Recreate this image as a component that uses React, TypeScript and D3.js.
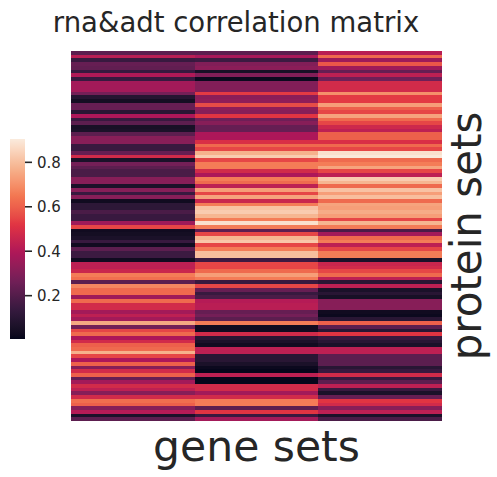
import React from "react";
import * as d3 from "d3";

const title = "rna&adt correlation matrix";
const xLabel = "gene sets";
const yLabel = "protein sets";
const columns = ["g0", "g1", "g2"];
const cbarTicks = [0.2, 0.4, 0.6, 0.8];
const vmin = 0.005;
const vmax = 0.905;

const col0 = [
  0.22, 0.42, 0.14, 0.24, 0.23, 0.14, 0.40, 0.14, 0.37, 0.37,
  0.37, 0.27, 0.09, 0.04, 0.24, 0.24, 0.10, 0.39, 0.14, 0.22,
  0.05, 0.06, 0.22, 0.31, 0.31, 0.14, 0.14, 0.24, 0.48, 0.06,
  0.27, 0.22, 0.18, 0.18, 0.31, 0.31, 0.06, 0.31, 0.14, 0.31,
  0.03, 0.11, 0.11, 0.18, 0.14, 0.14, 0.36, 0.55, 0.03, 0.04,
  0.06, 0.14, 0.03, 0.22, 0.15, 0.15, 0.03, 0.43, 0.43, 0.46,
  0.66, 0.63, 0.22, 0.68, 0.62, 0.62, 0.36, 0.62, 0.48, 0.48,
  0.37, 0.43, 0.37, 0.75, 0.27, 0.55, 0.62, 0.39, 0.48, 0.60,
  0.62, 0.77, 0.55, 0.39, 0.60, 0.31, 0.48, 0.60, 0.24, 0.37,
  0.48, 0.43, 0.31, 0.48, 0.63, 0.60, 0.31, 0.41, 0.06, 0.22,
];
const col1 = [
  0.22, 0.38, 0.15, 0.30, 0.32, 0.05, 0.30, 0.02, 0.30, 0.30,
  0.30, 0.53, 0.32, 0.33, 0.56, 0.33, 0.31, 0.52, 0.26, 0.31,
  0.24, 0.24, 0.39, 0.39, 0.50, 0.62, 0.55, 0.77, 0.83, 0.55,
  0.66, 0.66, 0.48, 0.39, 0.66, 0.62, 0.43, 0.73, 0.55, 0.74,
  0.46, 0.66, 0.81, 0.83, 0.78, 0.66, 0.88, 0.66, 0.22, 0.55,
  0.78, 0.82, 0.55, 0.66, 0.80, 0.80, 0.15, 0.55, 0.55, 0.62,
  0.73, 0.66, 0.14, 0.55, 0.24, 0.14, 0.18, 0.41, 0.42, 0.42,
  0.24, 0.27, 0.22, 0.66, 0.03, 0.03, 0.48, 0.10, 0.06, 0.03,
  0.43, 0.43, 0.10, 0.10, 0.06, 0.02, 0.01, 0.43, 0.01, 0.01,
  0.48, 0.48, 0.37, 0.48, 0.66, 0.66, 0.22, 0.52, 0.14, 0.37,
];
const col2 = [
  0.42, 0.62, 0.36, 0.58, 0.36, 0.24, 0.43, 0.26, 0.48, 0.48,
  0.48, 0.70, 0.53, 0.53, 0.73, 0.60, 0.55, 0.74, 0.62, 0.55,
  0.47, 0.43, 0.60, 0.60, 0.50, 0.62, 0.55, 0.88, 0.90, 0.62,
  0.66, 0.74, 0.55, 0.43, 0.83, 0.78, 0.62, 0.81, 0.73, 0.80,
  0.62, 0.74, 0.73, 0.76, 0.73, 0.55, 0.78, 0.66, 0.18, 0.37,
  0.62, 0.66, 0.43, 0.55, 0.66, 0.66, 0.06, 0.46, 0.48, 0.55,
  0.62, 0.43, 0.10, 0.43, 0.06, 0.10, 0.05, 0.31, 0.31, 0.31,
  0.03, 0.02, 0.10, 0.60, 0.22, 0.10, 0.52, 0.14, 0.10, 0.06,
  0.43, 0.43, 0.22, 0.22, 0.22, 0.10, 0.14, 0.48, 0.14, 0.22,
  0.43, 0.14, 0.06, 0.24, 0.52, 0.48, 0.31, 0.43, 0.06, 0.18,
];

const rocketStops = [
  "#03051a", "#35193e", "#701f57", "#ad1759",
  "#e13342", "#f37651", "#f6b48f", "#faebdd",
];

const W = 497;
const H = 477;
const TEXT = "#262626";
const FONT = "DejaVu Sans, sans-serif";

export default function App() {
  const series = [col0, col1, col2];
  const rows = d3.range(col0.length);
  const x = d3.scaleBand<string>().domain(columns).range([71, 442]);
  const y = d3.scaleBand<number>().domain(rows).range([51, 421]);
  const rocket = d3.piecewise(d3.interpolateLab, rocketStops);
  const color = d3.scaleSequential(rocket).domain([vmin, vmax]);
  const cb = d3.scaleLinear().domain([vmin, vmax]).range([339, 139]);
  const gradStops = d3.range(0, 1.0001, 0.02);

  const cells: React.ReactElement[] = [];
  series.forEach((vals, ci) => {
    vals.forEach((v, ri) => {
      cells.push(
        <rect
          key={`${ci}-${ri}`}
          x={x(columns[ci])}
          y={y(ri)}
          width={x.bandwidth()}
          height={y.bandwidth() + 0.3}
          fill={color(v)}
        />
      );
    });
  });

  return (
    <svg
      width={W}
      height={H}
      style={{ position: "absolute", left: 0, top: 0, background: "#fff" }}
      fontFamily={FONT}
    >
      <defs>
        <linearGradient id="cbar" x1="0" y1="1" x2="0" y2="0">
          {gradStops.map((t) => (
            <stop key={t} offset={t} stopColor={rocket(t)} />
          ))}
        </linearGradient>
      </defs>
      <g shapeRendering="crispEdges">{cells}</g>
      <text x={236} y={32} textAnchor="middle" fontSize={27.5} fill={TEXT}>
        {title}
      </text>
      <text
        x={(x.range()[0] + x.range()[1]) / 2}
        y={461}
        textAnchor="middle"
        fontSize={42.5}
        fill={TEXT}
      >
        {xLabel}
      </text>
      <text
        transform={`translate(481, ${(y.range()[0] + y.range()[1]) / 2}) rotate(-90)`}
        textAnchor="middle"
        fontSize={42}
        fill={TEXT}
      >
        {yLabel}
      </text>
      <rect x={10} y={cb(vmax)} width={15} height={cb(vmin) - cb(vmax)} fill="url(#cbar)" />
      {cbarTicks.map((t) => (
        <g key={t} transform={`translate(0, ${cb(t)})`}>
          <line x1={25} x2={32} y1={0} y2={0} stroke={TEXT} strokeWidth={1.6} />
          <text x={37} y={0} dy="0.36em" fontSize={15} fill={TEXT}>
            {t.toFixed(1)}
          </text>
        </g>
      ))}
    </svg>
  );
}
